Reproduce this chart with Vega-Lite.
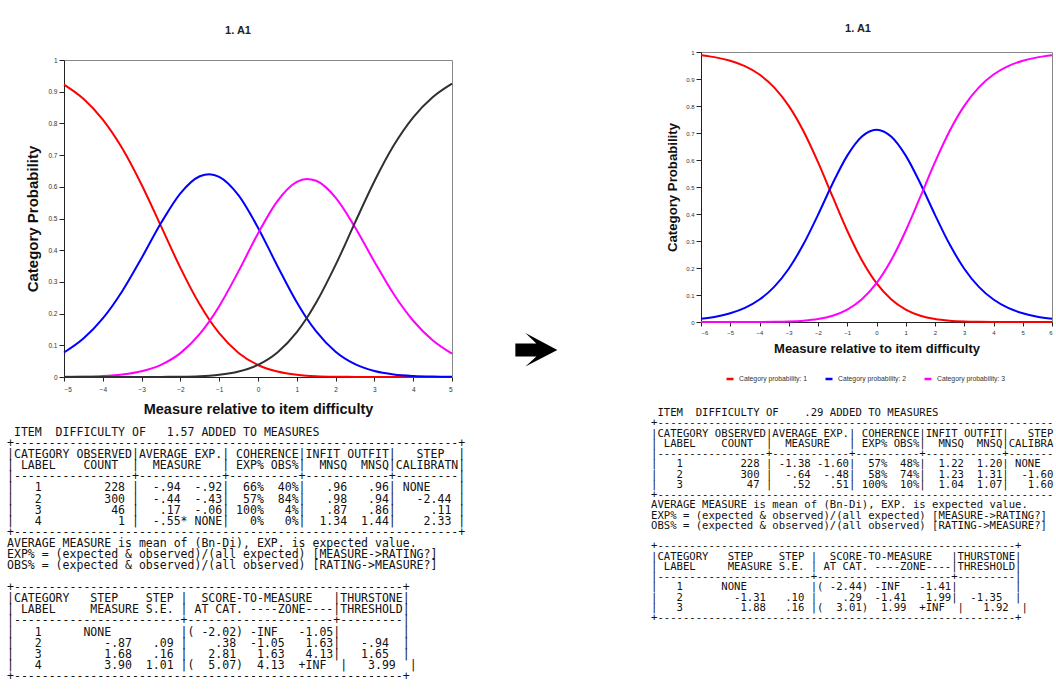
{
  "$schema": "https://vega.github.io/schema/vega-lite/v6.json",
  "background": "white",
  "padding": {"left": 7, "top": 22, "right": 0, "bottom": 0},
  "autosize": {"type": "pad"},
  "spacing": 10,
  "config": {
    "font": "Liberation Sans",
    "axis": {"grid": false, "domainColor": "#222", "tickColor": "#222", "labelColor": "#333", "titleColor": "#111", "labelFont": "Liberation Sans", "titleFont": "Liberation Sans", "titleFontWeight": "bold"},
    "title": {"font": "Liberation Sans", "fontWeight": "bold", "color": "#222", "fontSize": 11},
    "legend": {"labelFont": "Liberation Sans"}
  },
  "datasets": {
    "left": [
      {"x": -5, "p1": 0.9223, "p2": 0.0772, "p3": 0.0005, "p4": 0},
      {"x": -4.5, "p1": 0.8775, "p2": 0.1212, "p3": 0.0013, "p4": 0},
      {"x": -4, "p1": 0.8119, "p2": 0.1848, "p3": 0.0032, "p4": 0},
      {"x": -3.5, "p1": 0.7214, "p2": 0.2707, "p3": 0.0079, "p4": 0},
      {"x": -3, "p1": 0.6066, "p2": 0.3754, "p3": 0.018, "p4": 0.0001},
      {"x": -2.5, "p1": 0.4759, "p2": 0.4855, "p3": 0.0383, "p4": 0.0003},
      {"x": -2, "p1": 0.3444, "p2": 0.5794, "p3": 0.0753, "p4": 0.0009},
      {"x": -1.5, "p1": 0.2284, "p2": 0.6333, "p3": 0.1358, "p4": 0.0026},
      {"x": -1.25, "p1": 0.1797, "p2": 0.6399, "p3": 0.1761, "p4": 0.0043},
      {"x": -1, "p1": 0.1381, "p2": 0.6316, "p3": 0.2233, "p4": 0.0069},
      {"x": -0.5, "p1": 0.076, "p2": 0.573, "p3": 0.3339, "p4": 0.0171},
      {"x": 0, "p1": 0.0379, "p2": 0.4711, "p3": 0.4527, "p4": 0.0383},
      {"x": 0.5, "p1": 0.0171, "p2": 0.3504, "p3": 0.5551, "p4": 0.0774},
      {"x": 1, "p1": 0.007, "p2": 0.2358, "p3": 0.6157, "p4": 0.1416},
      {"x": 1.25, "p1": 0.0043, "p2": 0.1863, "p3": 0.6249, "p4": 0.1845},
      {"x": 1.5, "p1": 0.0026, "p2": 0.1438, "p3": 0.619, "p4": 0.2347},
      {"x": 2, "p1": 0.0009, "p2": 0.0797, "p3": 0.5658, "p4": 0.3536},
      {"x": 2.5, "p1": 0.0003, "p2": 0.0404, "p3": 0.4725, "p4": 0.4869},
      {"x": 3, "p1": 0.0001, "p2": 0.0188, "p3": 0.3635, "p4": 0.6176},
      {"x": 3.5, "p1": 0, "p2": 0.0082, "p3": 0.2609, "p4": 0.7309},
      {"x": 4, "p1": 0, "p2": 0.0034, "p3": 0.1774, "p4": 0.8192},
      {"x": 4.5, "p1": 0, "p2": 0.0013, "p3": 0.1159, "p4": 0.8827},
      {"x": 5, "p1": 0, "p2": 0.0005, "p3": 0.0738, "p4": 0.9257}
    ],
    "right": [
      {"x": -6, "c1": 0.9879, "c2": 0.0121, "c3": 0},
      {"x": -5.5, "c1": 0.9801, "c2": 0.0198, "c3": 0},
      {"x": -5, "c1": 0.9677, "c2": 0.0323, "c3": 0},
      {"x": -4.5, "c1": 0.9477, "c2": 0.0521, "c3": 0.0001},
      {"x": -4, "c1": 0.9165, "c2": 0.0831, "c3": 0.0003},
      {"x": -3.5, "c1": 0.8692, "c2": 0.13, "c3": 0.0008},
      {"x": -3, "c1": 0.8006, "c2": 0.1974, "c3": 0.002},
      {"x": -2.5, "c1": 0.7076, "c2": 0.2877, "c3": 0.0048},
      {"x": -2, "c1": 0.5922, "c2": 0.397, "c3": 0.0108},
      {"x": -1.5, "c1": 0.464, "c2": 0.5129, "c3": 0.0231},
      {"x": -1, "c1": 0.3381, "c2": 0.6161, "c3": 0.0458},
      {"x": -0.5, "c1": 0.2287, "c2": 0.6871, "c3": 0.0841},
      {"x": 0, "c1": 0.1438, "c2": 0.7124, "c3": 0.1438},
      {"x": 0.5, "c1": 0.0841, "c2": 0.6871, "c3": 0.2287},
      {"x": 1, "c1": 0.0458, "c2": 0.6161, "c3": 0.3381},
      {"x": 1.5, "c1": 0.0231, "c2": 0.5129, "c3": 0.464},
      {"x": 2, "c1": 0.0108, "c2": 0.397, "c3": 0.5922},
      {"x": 2.5, "c1": 0.0048, "c2": 0.2877, "c3": 0.7076},
      {"x": 3, "c1": 0.002, "c2": 0.1974, "c3": 0.8006},
      {"x": 3.5, "c1": 0.0008, "c2": 0.13, "c3": 0.8692},
      {"x": 4, "c1": 0.0003, "c2": 0.0831, "c3": 0.9165},
      {"x": 4.5, "c1": 0.0001, "c2": 0.0521, "c3": 0.9477},
      {"x": 5, "c1": 0, "c2": 0.0323, "c3": 0.9677},
      {"x": 5.5, "c1": 0, "c2": 0.0198, "c3": 0.9801},
      {"x": 6, "c1": 0, "c2": 0.0121, "c3": 0.9879}
    ],
    "leftItem": [
      {"line": 0, "t": "ITEM\u00a0\u00a0DIFFICULTY\u00a0OF\u00a0\u00a0\u00a01.57\u00a0ADDED\u00a0TO\u00a0MEASURES"}
    ],
    "rightItem": [
      {"line": 0, "t": "ITEM\u00a0\u00a0DIFFICULTY\u00a0OF\u00a0\u00a0\u00a0\u00a0.29\u00a0ADDED\u00a0TO\u00a0MEASURES"}
    ],
    "leftText": [
      {"line": 1, "t": "+----------------------------------------------------------------+"},
      {"line": 2, "t": "|CATEGORY\u00a0OBSERVED|AVERAGE\u00a0EXP.|\u00a0COHERENCE|INFIT\u00a0OUTFIT|\u00a0\u00a0\u00a0STEP\u00a0\u00a0|"},
      {"line": 3, "t": "|\u00a0LABEL\u00a0\u00a0\u00a0\u00a0COUNT\u00a0\u00a0|\u00a0\u00a0MEASURE\u00a0\u00a0\u00a0|\u00a0EXP%\u00a0OBS%|\u00a0\u00a0MNSQ\u00a0\u00a0MNSQ|CALIBRATN|"},
      {"line": 4, "t": "|-----------------+------------+----------+------------+---------|"},
      {"line": 5, "t": "|\u00a0\u00a0\u00a01\u00a0\u00a0\u00a0\u00a0\u00a0\u00a0\u00a0\u00a0\u00a0228\u00a0|\u00a0\u00a0-.94\u00a0\u00a0-.92|\u00a0\u00a066%\u00a0\u00a040%|\u00a0\u00a0\u00a0.96\u00a0\u00a0\u00a0.96|\u00a0NONE\u00a0\u00a0\u00a0\u00a0|"},
      {"line": 6, "t": "|\u00a0\u00a0\u00a02\u00a0\u00a0\u00a0\u00a0\u00a0\u00a0\u00a0\u00a0\u00a0300\u00a0|\u00a0\u00a0-.44\u00a0\u00a0-.43|\u00a0\u00a057%\u00a0\u00a084%|\u00a0\u00a0\u00a0.98\u00a0\u00a0\u00a0.94|\u00a0\u00a0\u00a0-2.44\u00a0|"},
      {"line": 7, "t": "|\u00a0\u00a0\u00a03\u00a0\u00a0\u00a0\u00a0\u00a0\u00a0\u00a0\u00a0\u00a0\u00a046\u00a0|\u00a0\u00a0\u00a0.17\u00a0\u00a0-.06|\u00a0100%\u00a0\u00a0\u00a04%|\u00a0\u00a0\u00a0.87\u00a0\u00a0\u00a0.86|\u00a0\u00a0\u00a0\u00a0\u00a0.11\u00a0|"},
      {"line": 8, "t": "|\u00a0\u00a0\u00a04\u00a0\u00a0\u00a0\u00a0\u00a0\u00a0\u00a0\u00a0\u00a0\u00a0\u00a01\u00a0|\u00a0\u00a0-.55*\u00a0NONE|\u00a0\u00a0\u00a00%\u00a0\u00a0\u00a00%|\u00a0\u00a01.34\u00a0\u00a01.44|\u00a0\u00a0\u00a0\u00a02.33\u00a0|"},
      {"line": 9, "t": "+----------------------------------------------------------------+"},
      {"line": 10, "t": "AVERAGE MEASURE is mean of (Bn-Di), EXP. is expected value."},
      {"line": 11, "t": "EXP% = (expected & observed)/(all expected) [MEASURE->RATING?]"},
      {"line": 12, "t": "OBS% = (expected & observed)/(all observed) [RATING->MEASURE?]"},
      {"line": 14, "t": "+--------------------------------------------------------+"},
      {"line": 15, "t": "|CATEGORY\u00a0\u00a0\u00a0STEP\u00a0\u00a0\u00a0\u00a0STEP\u00a0|\u00a0\u00a0SCORE-TO-MEASURE\u00a0\u00a0\u00a0|THURSTONE|"},
      {"line": 16, "t": "|\u00a0LABEL\u00a0\u00a0\u00a0\u00a0\u00a0MEASURE\u00a0S.E.\u00a0|\u00a0AT\u00a0CAT.\u00a0----ZONE----|THRESHOLD|"},
      {"line": 17, "t": "|------------------------+---------------------+---------|"},
      {"line": 18, "t": "|\u00a0\u00a0\u00a01\u00a0\u00a0\u00a0\u00a0\u00a0\u00a0NONE\u00a0\u00a0\u00a0\u00a0\u00a0\u00a0\u00a0\u00a0\u00a0\u00a0|(\u00a0-2.02)\u00a0-INF\u00a0\u00a0\u00a0-1.05|\u00a0\u00a0\u00a0\u00a0\u00a0\u00a0\u00a0\u00a0\u00a0|"},
      {"line": 19, "t": "|\u00a0\u00a0\u00a02\u00a0\u00a0\u00a0\u00a0\u00a0\u00a0\u00a0\u00a0\u00a0-.87\u00a0\u00a0\u00a0.09\u00a0|\u00a0\u00a0\u00a0\u00a0.38\u00a0\u00a0-1.05\u00a0\u00a0\u00a01.63|\u00a0\u00a0\u00a0-.94\u00a0\u00a0|"},
      {"line": 20, "t": "|\u00a0\u00a0\u00a03\u00a0\u00a0\u00a0\u00a0\u00a0\u00a0\u00a0\u00a0\u00a01.68\u00a0\u00a0\u00a0.16\u00a0|\u00a0\u00a0\u00a02.81\u00a0\u00a0\u00a01.63\u00a0\u00a0\u00a04.13|\u00a0\u00a0\u00a01.65\u00a0\u00a0|"},
      {"line": 21, "t": "|\u00a0\u00a0\u00a04\u00a0\u00a0\u00a0\u00a0\u00a0\u00a0\u00a0\u00a0\u00a03.90\u00a0\u00a01.01\u00a0|(\u00a0\u00a05.07)\u00a0\u00a04.13\u00a0\u00a0+INF\u00a0\u00a0|\u00a0\u00a0\u00a03.99\u00a0\u00a0|"},
      {"line": 22, "t": "+--------------------------------------------------------+"}
    ],
    "rightText": [
      {"line": 1, "t": "+--------------------------------------------------------------"},
      {"line": 2, "t": "|CATEGORY\u00a0OBSERVED|AVERAGE\u00a0EXP.|\u00a0COHERENCE|INFIT\u00a0OUTFIT|\u00a0\u00a0\u00a0STEP"},
      {"line": 3, "t": "|\u00a0LABEL\u00a0\u00a0\u00a0\u00a0COUNT\u00a0\u00a0|\u00a0\u00a0MEASURE\u00a0\u00a0\u00a0|\u00a0EXP%\u00a0OBS%|\u00a0\u00a0MNSQ\u00a0\u00a0MNSQ|CALIBRA"},
      {"line": 4, "t": "|-----------------+------------+----------+------------+-------"},
      {"line": 5, "t": "|\u00a0\u00a0\u00a01\u00a0\u00a0\u00a0\u00a0\u00a0\u00a0\u00a0\u00a0\u00a0228\u00a0|\u00a0-1.38\u00a0-1.60|\u00a0\u00a057%\u00a0\u00a048%|\u00a0\u00a01.22\u00a0\u00a01.20|\u00a0NONE"},
      {"line": 6, "t": "|\u00a0\u00a0\u00a02\u00a0\u00a0\u00a0\u00a0\u00a0\u00a0\u00a0\u00a0\u00a0300\u00a0|\u00a0\u00a0-.64\u00a0\u00a0-.48|\u00a0\u00a058%\u00a0\u00a074%|\u00a0\u00a01.23\u00a0\u00a01.31|\u00a0\u00a0-1.60"},
      {"line": 7, "t": "|\u00a0\u00a0\u00a03\u00a0\u00a0\u00a0\u00a0\u00a0\u00a0\u00a0\u00a0\u00a0\u00a047\u00a0|\u00a0\u00a0\u00a0.52\u00a0\u00a0\u00a0.51|\u00a0100%\u00a0\u00a010%|\u00a0\u00a01.04\u00a0\u00a01.07|\u00a0\u00a0\u00a01.60"},
      {"line": 8, "t": "+--------------------------------------------------------------"},
      {"line": 9, "t": "AVERAGE MEASURE is mean of (Bn-Di), EXP. is expected value."},
      {"line": 10, "t": "EXP% = (expected & observed)/(all expected) [MEASURE->RATING?]"},
      {"line": 11, "t": "OBS% = (expected & observed)/(all observed) [RATING->MEASURE?]"},
      {"line": 13, "t": "+--------------------------------------------------------+"},
      {"line": 14, "t": "|CATEGORY\u00a0\u00a0\u00a0STEP\u00a0\u00a0\u00a0\u00a0STEP\u00a0|\u00a0\u00a0SCORE-TO-MEASURE\u00a0\u00a0\u00a0|THURSTONE|"},
      {"line": 15, "t": "|\u00a0LABEL\u00a0\u00a0\u00a0\u00a0\u00a0MEASURE\u00a0S.E.\u00a0|\u00a0AT\u00a0CAT.\u00a0----ZONE----|THRESHOLD|"},
      {"line": 16, "t": "|------------------------+---------------------+---------|"},
      {"line": 17, "t": "|\u00a0\u00a0\u00a01\u00a0\u00a0\u00a0\u00a0\u00a0\u00a0NONE\u00a0\u00a0\u00a0\u00a0\u00a0\u00a0\u00a0\u00a0\u00a0\u00a0|(\u00a0-2.44)\u00a0-INF\u00a0\u00a0\u00a0-1.41|\u00a0\u00a0\u00a0\u00a0\u00a0\u00a0\u00a0\u00a0\u00a0|"},
      {"line": 18, "t": "|\u00a0\u00a0\u00a02\u00a0\u00a0\u00a0\u00a0\u00a0\u00a0\u00a0\u00a0-1.31\u00a0\u00a0\u00a0.10\u00a0|\u00a0\u00a0\u00a0\u00a0.29\u00a0\u00a0-1.41\u00a0\u00a0\u00a01.99|\u00a0\u00a0-1.35\u00a0\u00a0|"},
      {"line": 19, "t": "|\u00a0\u00a0\u00a03\u00a0\u00a0\u00a0\u00a0\u00a0\u00a0\u00a0\u00a0\u00a01.88\u00a0\u00a0\u00a0.16\u00a0|(\u00a0\u00a03.01)\u00a0\u00a01.99\u00a0\u00a0+INF\u00a0\u00a0|\u00a0\u00a0\u00a01.92\u00a0\u00a0|"},
      {"line": 20, "t": "+--------------------------------------------------------+"}
    ]
  },
  "hconcat": [
    {
      "width": 388,
      "height": 325,
      "title": {"text": "1. A1", "offset": 16.5, "dx": -20},
      "view": {"stroke": null},
      "layer": [
        {
          "data": {"name": "left"},
          "transform": [{"fold": ["p1", "p2", "p3", "p4"], "as": ["cat", "p"]}],
          "mark": {"type": "line", "interpolate": "monotone", "strokeWidth": 2},
          "encoding": {
            "x": {"field": "x", "type": "quantitative", "scale": {"domain": [-5, 5], "nice": false, "zero": false},
              "axis": {"values": [-5, -4, -3, -2, -1, 0, 1, 2, 3, 4, 5], "format": "~g", "title": "Measure relative to item difficulty", "titleFontSize": 14.5, "titlePadding": 9.5, "labelFontSize": 6.5, "tickSize": 4, "labelPadding": 5}},
            "y": {"field": "p", "type": "quantitative", "scale": {"domain": [0, 1], "nice": false, "range": [325, 8]},
              "axis": {"values": [0, 0.1, 0.2, 0.3, 0.4, 0.5, 0.6, 0.7, 0.8, 0.9, 1], "format": "~g", "title": "Category Probability", "titleFontSize": 15, "titlePadding": 7, "labelFontSize": 6.5, "tickSize": 5, "labelPadding": 2}},
            "color": {"field": "cat", "type": "nominal", "scale": {"domain": ["p1", "p2", "p3", "p4"], "range": ["#ff0000", "#0000ff", "#ff00ff", "#303030"]}, "legend": null}
          }
        },
        {
          "data": {"name": "left"},
          "mark": {"type": "line", "strokeOpacity": 0},
          "encoding": {
            "x": {"field": "x", "type": "quantitative", "scale": {"domain": [-5, 5], "nice": false, "zero": false},
              "axis": {"orient": "top", "offset": -8, "domainColor": "#888", "ticks": false, "labels": false, "title": null}},
            "y": {"field": "p1", "type": "quantitative", "scale": {"domain": [0, 1], "nice": false, "range": [325, 8]},
              "axis": {"orient": "right", "domainColor": "#888", "ticks": false, "labels": false, "title": null}}
          }
        },
        {
          "data": {"name": "leftText"},
          "mark": {"type": "text", "align": "left", "baseline": "middle", "font": "DejaVu Sans Mono", "fontSize": 11.54, "color": "#111"},
          "encoding": {
            "x": {"datum": 0, "type": "quantitative", "scale": {"domain": [8.2, 64.03], "nice": false, "zero": false}, "axis": null},
            "y": {"field": "line", "type": "quantitative", "scale": {"domain": [-34.36, -5.05], "nice": false, "zero": false, "reverse": true}, "axis": null},
            "text": {"field": "t", "type": "nominal"}
          }
        },
        {
          "data": {"name": "leftItem"},
          "mark": {"type": "text", "align": "left", "baseline": "middle", "font": "DejaVu Sans Mono", "fontSize": 11.54, "color": "#111"},
          "encoding": {
            "x": {"datum": 1, "type": "quantitative", "scale": {"domain": [8.2, 64.03], "nice": false, "zero": false}, "axis": null},
            "y": {"field": "line", "type": "quantitative", "scale": {"domain": [-34.36, -5.05], "nice": false, "zero": false, "reverse": true}, "axis": null},
            "text": {"field": "t", "type": "nominal"}
          }
        }
      ],
      "resolve": {"scale": {"x": "independent", "y": "independent"}, "axis": {"x": "independent", "y": "independent"}}
    },
    {
      "width": 164,
      "height": 596,
      "view": {"stroke": null},
      "data": {"values": [{"a": 1}]},
      "mark": {"type": "point", "shape": "M-1,-0.31L0,-0.31L-0.52,-0.81L1,0L-0.52,0.78L0,0.31L-1,0.31Z", "filled": true, "color": "#000000", "opacity": 1, "size": 1764},
      "encoding": {
        "x": {"datum": 0.368, "type": "quantitative", "scale": {"domain": [0, 1], "nice": false}, "axis": null},
        "y": {"datum": 0.5, "type": "quantitative", "scale": {"domain": [0, 1], "nice": false}, "axis": null}
      }
    },
    {
      "width": 351,
      "height": 270,
      "title": {"text": "1. A1", "offset": 15.5, "dx": -18.5},
      "view": {"stroke": "#888"},
      "layer": [
        {
          "data": {"name": "right"},
          "transform": [{"fold": ["c1", "c2", "c3"], "as": ["cat", "p"]}],
          "mark": {"type": "line", "interpolate": "monotone", "strokeWidth": 2},
          "encoding": {
            "x": {"field": "x", "type": "quantitative", "scale": {"domain": [-6, 6], "nice": false, "zero": false},
              "axis": {"values": [-6, -5, -4, -3, -2, -1, 0, 1, 2, 3, 4, 5, 6], "format": "~g", "title": "Measure relative to item difficulty", "titleFontSize": 13, "titlePadding": 7, "labelFontSize": 6, "tickSize": 4, "labelPadding": 3}},
            "y": {"field": "p", "type": "quantitative", "scale": {"domain": [0, 1], "nice": false},
              "axis": {"values": [0, 0.1, 0.2, 0.3, 0.4, 0.5, 0.6, 0.7, 0.8, 0.9, 1], "format": "~g", "title": "Category Probability", "titleFontSize": 13.2, "titlePadding": 6, "labelFontSize": 6, "tickSize": 5, "labelPadding": 2}},
            "color": {"field": "cat", "type": "nominal", "scale": {"domain": ["c1", "c2", "c3"], "range": ["#ff0000", "#0000ff", "#ff00ff"]},
              "legend": {"title": null, "orient": "none", "legendX": 24, "legendY": 322, "direction": "horizontal", "symbolType": "stroke", "symbolSize": 49, "symbolStrokeWidth": 2.5, "labelFontSize": 6.8, "labelColor": "#333", "labelOffset": 4, "columnPadding": 12, "labelExpr": "'Category probability: ' + slice(datum.label, 1)"}}
          }
        },
        {
          "data": {"name": "rightText"},
          "mark": {"type": "text", "align": "left", "baseline": "middle", "font": "DejaVu Sans Mono", "fontSize": 10.61, "color": "#111"},
          "encoding": {
            "x": {"datum": 0, "type": "quantitative", "scale": {"domain": [7.825, 62.75], "nice": false, "zero": false}, "axis": null},
            "y": {"field": "line", "type": "quantitative", "scale": {"domain": [-35.22, -8.88], "nice": false, "zero": false, "reverse": true}, "axis": null},
            "text": {"field": "t", "type": "nominal"}
          }
        },
        {
          "data": {"name": "rightItem"},
          "mark": {"type": "text", "align": "left", "baseline": "middle", "font": "DejaVu Sans Mono", "fontSize": 10.61, "color": "#111"},
          "encoding": {
            "x": {"datum": 1, "type": "quantitative", "scale": {"domain": [7.825, 62.75], "nice": false, "zero": false}, "axis": null},
            "y": {"field": "line", "type": "quantitative", "scale": {"domain": [-35.22, -8.88], "nice": false, "zero": false, "reverse": true}, "axis": null},
            "text": {"field": "t", "type": "nominal"}
          }
        }
      ],
      "resolve": {"scale": {"x": "independent", "y": "independent", "color": "independent"}}
    }
  ]
}
